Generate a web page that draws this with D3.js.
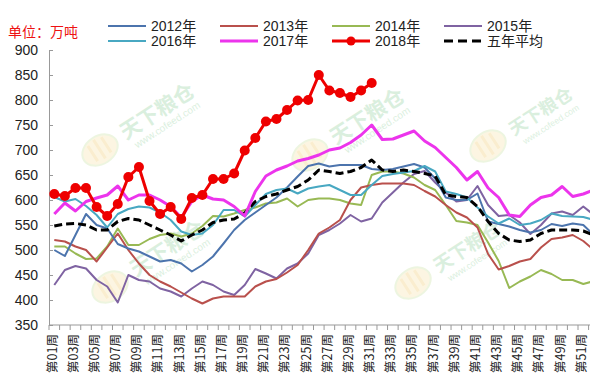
<!DOCTYPE html>
<html>
<head>
<meta charset="utf-8">
<script src="https://cdn.jsdelivr.net/npm/d3@7"></script>
<style>
  body { margin: 0; background: #fff; }
  svg { display: block; }
  text { font-family: "Liberation Sans", Arial, "Noto Sans CJK SC", sans-serif; }
</style>
</head>
<body>
<svg id="chart" width="590" height="382"></svg>
<script>
// Weekly stock, 10k tonnes (万吨), by week of year
const weekLabels = [
  "第01周","第02周","第03周","第04周","第05周","第06周","第07周","第08周","第09周","第10周",
  "第11周","第12周","第13周","第14周","第15周","第16周","第17周","第18周","第19周","第20周",
  "第21周","第22周","第23周","第24周","第25周","第26周","第27周","第28周","第29周","第30周",
  "第31周","第32周","第33周","第34周","第35周","第36周","第37周","第38周","第39周","第40周",
  "第41周","第42周","第43周","第44周","第45周","第46周","第47周","第48周","第49周","第50周",
  "第51周","第52周"
];
const shownWeekLabels = weekLabels.filter((d, i) => i % 2 === 0);
const yTicks = [350, 400, 450, 500, 550, 600, 650, 700, 750, 800, 850, 900];

const s2012 = [500,488,530,572,550,543,512,503,497,487, 477,480,473,457,470,487,513,540,560,575,
               590,605,625,647,668,673,667,670,670,670, 662,660,662,667,672,665,643,605,600,600,
               613,557,552,547,540,535,540,552,548,553, 550,530];
const s2013 = [520,517,507,500,477,505,533,500,473,450, 437,427,415,403,393,403,407,407,407,427,
               437,442,455,470,500,533,545,560,600,625, 630,633,633,633,630,618,607,590,575,565,
               545,492,461,468,477,482,505,522,525,530, 518,500];
const s2014 = [507,507,493,482,483,507,543,510,510,522, 530,533,527,533,548,568,567,573,580,585,
               593,595,603,587,600,603,603,600,593,590, 650,657,657,653,645,630,620,590,558,555,
               550,515,478,424,437,447,460,452,440,440, 432,438];
const s2015 = [430,460,468,463,440,427,395,450,440,437, 423,417,407,423,437,430,417,410,430,462,
               453,443,463,473,493,530,540,553,570,557, 563,595,615,635,652,658,635,615,597,600,
               628,590,568,570,555,532,550,573,577,570, 587,570];
const s2016 = [606,597,602,588,570,545,572,582,587,585, 575,560,537,530,533,550,580,580,567,590,
               612,620,623,613,623,627,630,620,610,610, 630,648,652,655,658,668,657,617,612,605,
               585,567,553,563,550,553,560,573,568,567, 566,560];
const s2017 = [572,594,578,597,604,610,628,600,610,610, 600,587,565,597,610,602,600,587,568,617,
               648,660,668,678,683,690,700,704,715,730, 750,721,722,730,738,718,705,685,665,640,
               657,624,605,570,567,590,605,610,627,607, 612,620];
const s2018 = [612,608,624,624,586,568,592,646,666,598, 572,586,562,604,610,642,642,653,699,724,
               757,762,780,799,800,850,819,814,806,819, 834];
const sAvg  = [548,552,553,550,540,540,557,563,560,550, 540,530,518,530,540,555,560,562,574,597,
               607,612,620,627,640,660,657,653,657,665, 680,660,657,660,657,653,648,610,607,605,
               587,557,533,520,517,520,533,540,540,540, 538,530];

const series = [
  { name: "2015年", values: s2015, color: "#7f63a2", width: 2 },
  { name: "2014年", values: s2014, color: "#98b954", width: 2 },
  { name: "2013年", values: s2013, color: "#b9504c", width: 2 },
  { name: "2012年", values: s2012, color: "#4c74ad", width: 2 },
  { name: "2016年", values: s2016, color: "#48a8c2", width: 2 },
  { name: "五年平均", values: sAvg, color: "#000000", width: 3, dash: "8,4" },
  { name: "2017年", values: s2017, color: "#ec34ec", width: 3 },
  { name: "2018年", values: s2018, color: "#ee0000", width: 3, dots: true }
];
const legendOrder = ["2012年","2013年","2014年","2015年","2016年","2017年","2018年","五年平均"];

const svg = d3.select("#chart");
const plotLeft = 49, plotTop = 50, plotBottom = 325;
const bandW = 10.58;

const x = d3.scaleBand()
  .domain(weekLabels)
  .range([plotLeft, plotLeft + bandW * weekLabels.length]);
const cx = label => x(label) + x.bandwidth() / 2;
const y = d3.scaleLinear().domain([350, 900]).range([plotBottom, plotTop]);

// faint site watermarks behind the plot
const marks = [[100,150,21],[310,155,21],[488,146,18],[110,287,21],[413,283,19]];
const wm = svg.append("g").attr("class", "watermarks");
marks.forEach(([mx, my, fs]) => {
  const g = wm.append("g").attr("transform", `translate(${mx},${my}) rotate(-33)`).attr("opacity", 0.32);
  g.append("ellipse").attr("rx", 19).attr("ry", 14)
    .attr("fill", "#f7e3a6").attr("stroke", "#c9e2a0").attr("stroke-width", 2);
  g.append("path").attr("d", "M-8,-10 L-8,8 M0,-12 L0,10 M8,-10 L8,8")
    .attr("stroke", "#f1c96b").attr("stroke-width", 3).attr("fill", "none");
  g.append("text").attr("x", 27).attr("y", 6)
    .attr("font-size", fs).attr("font-weight", "bold").attr("fill", "#8fcf9a")
    .style("font-family", "'Noto Sans CJK SC', sans-serif")
    .text("天下粮仓");
  g.append("text").attr("x", 32).attr("y", 19)
    .attr("font-size", fs * 0.48).attr("fill", "#8fcf9a")
    .text("www.cofeed.com");
});

// y axis: ticks point into the plot
const yAxis = svg.append("g")
  .attr("transform", `translate(${plotLeft},0)`)
  .call(d3.axisLeft(y).tickValues(yTicks).tickSizeInner(-4).tickSizeOuter(0).tickPadding(11));
yAxis.select(".domain").attr("stroke", "#999");
yAxis.selectAll(".tick line").attr("stroke", "#999");
yAxis.selectAll(".tick text").attr("font-size", 14).attr("fill", "#222")
  .style("font-family", "'Liberation Sans', Arial, sans-serif");

// x axis: labels for every other week, ticks on band boundaries
const xAxis = svg.append("g")
  .attr("transform", `translate(0,${plotBottom})`)
  .call(d3.axisBottom(x).tickValues(shownWeekLabels).tickSize(0).tickSizeOuter(0));
xAxis.select(".domain").remove();
xAxis.append("line").attr("x1", plotLeft).attr("x2", 600).attr("y1", 0).attr("y2", 0)
  .attr("stroke", "#999");
xAxis.selectAll(".boundary").data(weekLabels).enter().append("line")
  .attr("class", "boundary")
  .attr("x1", d => x(d)).attr("x2", d => x(d)).attr("y1", 0).attr("y2", 5)
  .attr("stroke", "#999");
xAxis.selectAll(".tick text")
  .attr("font-size", 12.5).attr("fill", "#222")
  .attr("text-anchor", "end")
  .attr("transform", "translate(-2,9) rotate(-90)")
  .attr("x", 0).attr("y", 0).attr("dy", "0.35em")
  .style("font-family", "'Noto Sans CJK SC', sans-serif");

// series lines
const line = d3.line()
  .x((d, i) => cx(weekLabels[i]))
  .y(d => y(d));

const lines = svg.append("g").attr("class", "series");
series.forEach(s => {
  lines.append("path")
    .datum(s.values)
    .attr("fill", "none")
    .attr("stroke", s.color)
    .attr("stroke-width", s.width)
    .attr("stroke-linejoin", "round")
    .attr("stroke-dasharray", s.dash || null)
    .attr("d", line);
  if (s.dots) {
    lines.selectAll(null).data(s.values).enter().append("circle")
      .attr("cx", (d, i) => cx(weekLabels[i]))
      .attr("cy", d => y(d))
      .attr("r", 5)
      .attr("fill", s.color);
  }
});

// unit label
svg.append("text").attr("x", 8).attr("y", 37)
  .attr("font-size", 14).attr("fill", "#ee1111")
  .style("font-family", "'Noto Sans CJK SC', sans-serif")
  .text("单位：万吨");

// legend, two rows of four
const legend = svg.append("g").attr("class", "legend");
const colX = [108, 220, 332, 444];
const rowY = [26, 41];
legendOrder.forEach((name, i) => {
  const s = series.find(d => d.name === name);
  const lx = colX[i % 4], ly = rowY[Math.floor(i / 4)];
  const g = legend.append("g").attr("transform", `translate(${lx},${ly})`);
  g.append("line").attr("x1", 0).attr("x2", 38).attr("y1", 0).attr("y2", 0)
    .attr("stroke", s.color).attr("stroke-width", s.width)
    .attr("stroke-dasharray", s.dash ? "9,5" : null);
  if (s.dots) g.append("circle").attr("cx", 19).attr("cy", 0).attr("r", 4.5).attr("fill", s.color);
  g.append("text").attr("x", 43).attr("y", 0).attr("dy", "0.36em")
    .attr("font-size", 14).attr("fill", "#222")
    .text(name);
});
</script>
</body>
</html>
